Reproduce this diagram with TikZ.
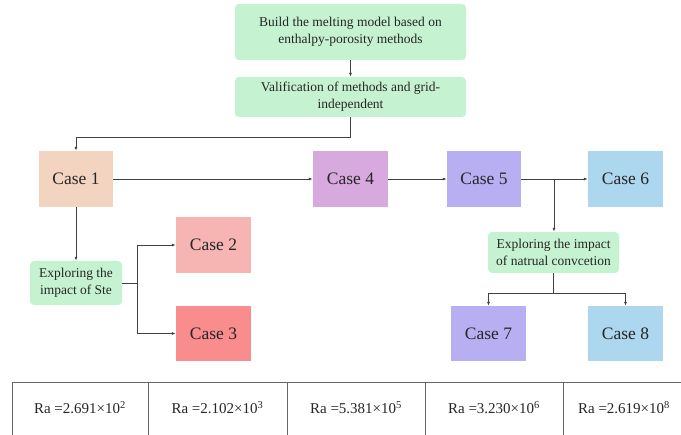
\documentclass[tikz,border=0pt]{standalone}
\usepackage{fontspec}
\setmainfont{Liberation Serif}
\newfontfamily\tnr{Liberation Serif}
\usetikzlibrary{arrows.meta}
\definecolor{gbox}{HTML}{C5F2D0}
\definecolor{c1}{HTML}{F2D4C1}
\definecolor{c2}{HTML}{F6B4B3}
\definecolor{c3}{HTML}{F98C8C}
\definecolor{c4}{HTML}{D7A9DF}
\definecolor{c5}{HTML}{B8AFF3}
\definecolor{c6}{HTML}{ADD6EF}
\definecolor{ln}{HTML}{404040}
\tikzset{
  greenbox/.style={fill=gbox, draw=none, rounded corners=4pt, align=center, inner sep=0pt,
    font=\tnr\fontsize{13.5}{17}\selectfont, text=black!85},
  casebox/.style={draw=none, minimum width=75pt, minimum height=56pt, inner sep=0pt,
    font=\tnr\fontsize{17.5}{20}\selectfont, text=black!85},
  conn/.style={draw=ln, line width=0.8pt, -{Latex[length=4pt,width=3pt]}},
  plain/.style={draw=ln, line width=0.8pt},
  tline/.style={draw=black!60, line width=0.7pt},
  ratxt/.style={font=\tnr\fontsize{15}{18}\selectfont, text=black!85}
}
\begin{document}
\begin{tikzpicture}[x=1pt,y=-1pt]
\useasboundingbox (0,0) rectangle (681,435);
\node[greenbox, minimum width=231pt, minimum height=56pt] (top) at (350.5,32) {Build the melting model based on\\enthalpy-porosity methods};
\node[greenbox, minimum width=231pt, minimum height=40pt] (valid) at (350.5,97) {Valification of methods and grid-\\independent};
\node[casebox, fill=c1, minimum width=74pt] (case1) at (76,179) {Case 1};
\node[casebox, fill=c4] (case4) at (350.5,179) {Case 4};
\node[casebox, fill=c5, minimum width=74pt] (case5) at (484,179) {Case 5};
\node[casebox, fill=c6] (case6) at (625.5,179) {Case 6};
\node[greenbox, minimum width=92pt, minimum height=44pt, font=\tnr\fontsize{13.5}{16.5}\selectfont] (ste) at (76,283) {Exploring the\\impact of Ste};
\node[casebox, fill=c2] (case2) at (213.5,245) {Case 2};
\node[casebox, fill=c3, minimum height=55pt] (case3) at (213.5,333.5) {Case 3};
\node[greenbox, minimum width=131pt, minimum height=41pt, font=\tnr\fontsize{13.5}{16.5}\selectfont] (conv) at (553.5,252.5) {Exploring the impact\\of natrual convcetion};
\node[casebox, fill=c5, minimum height=55pt] (case7) at (488.5,333.5) {Case 7};
\node[casebox, fill=c6, minimum height=55pt] (case8) at (625.5,333.5) {Case 8};
% connectors
\draw[conn] (top.south) -- (valid.north);
\coordinate (v1) at (350.5,137);
\draw[conn] (valid.south) -- (v1) -| (case1.north);
\draw[conn] (case1.east) -- (case4.west);
\draw[conn] (case4.east) -- (case5.west);
\draw[conn] (case5.east) -- (case6.west);
\coordinate (b5) at (554,179);
\draw[conn] (b5) -- (b5 |- conv.north);
\draw[conn] (case1.south) -- (ste.north);
\coordinate (sj) at (137,283);
\draw[plain] (ste.east) -- (sj);
\draw[conn] (sj) |- (case2.west);
\draw[conn] (sj) |- (case3.west);
\coordinate (cj) at (553.5,293);
\draw[plain] (conv.south) -- (cj);
\draw[conn] (cj) -| (case7.north);
\draw[conn] (cj) -| (case8.north);
% table
\coordinate (tl) at (12,382);
\coordinate (tr) at (681,382);
\draw[tline] (tl) -- (tr);
\foreach \x in {12,148,287,425,563} { \draw[tline] (\x,382) -- (\x,436); }
\node[ratxt] (r1) at (80,408) {Ra =2.691×10\textsuperscript{2}};
\node[ratxt] (r2) at (217.5,408) {Ra =2.102×10\textsuperscript{3}};
\node[ratxt] (r3) at (356,408) {Ra =5.381×10\textsuperscript{5}};
\node[ratxt] (r4) at (494,408) {Ra =3.230×10\textsuperscript{6}};
\begin{scope}
\clip (0,0) rectangle (681,435);
\node[ratxt] (r5) at (624,408) {Ra =2.619×10\textsuperscript{8}};
\end{scope}
\end{tikzpicture}
\end{document}
